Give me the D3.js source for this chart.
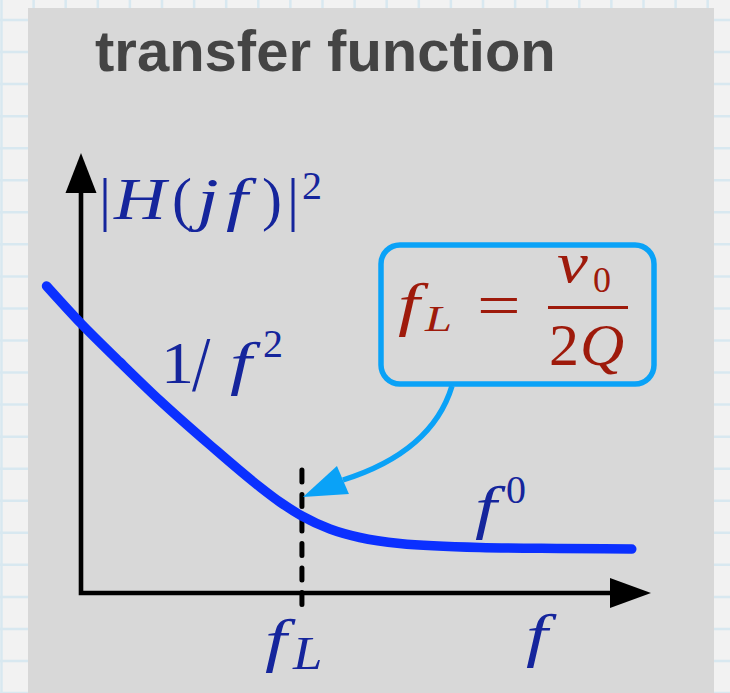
<!DOCTYPE html>
<html>
<head>
<meta charset="utf-8">
<script src="https://cdn.jsdelivr.net/npm/d3@7"></script>
<style>
  html, body { margin: 0; padding: 0; background: #f2f2f2; }
  svg { display: block; }
</style>
</head>
<body>
<script>
// Sketch of |H(jf)|^2: a 1/f^2 fall-off that levels out (f^0) above f_L.
// Frequency in units of f_L (f_L = 1), power in arbitrary units.
const freq  = [-0.156, 0.0,  0.176, 0.357, 0.584, 0.810, 0.900, 1.0,  1.127, 1.262, 1.443, 1.805, 2.167, 2.493];
const power = [ 3.07,  2.695, 2.31, 1.925, 1.48,  1.06,  0.91,  0.77, 0.64,  0.555, 0.495, 0.455, 0.445, 0.44];
const cornerFreq = 1.0;           // f_L
const xDomain = [0, 2.58];        // axis extent, tip of arrow
const yDomain = [0, 4.4];

const W = 730, H = 693;
const svg = d3.select("body").append("svg").attr("width", W).attr("height", H);

// graph-paper backdrop
const grid = svg.append("g").attr("stroke", "#d8e8f0").attr("stroke-width", 2.5);
d3.range(0, 24).forEach(k => {
  const gx = 1.5 + k * 32.1;
  grid.append("line").attr("x1", gx).attr("x2", gx).attr("y1", 0).attr("y2", H);
});
d3.range(-1, 22).forEach(k => {
  const gy = 20 + k * 32.05;
  grid.append("line").attr("x1", 0).attr("x2", W).attr("y1", gy).attr("y2", gy);
});

// grey panel
svg.append("rect").attr("x", 28).attr("y", 8).attr("width", 686).attr("height", H)
  .attr("fill", "#d8d8d8");

svg.append("text").attr("x", 95).attr("y", 71)
  .attr("font-family", "Liberation Sans, Arial, sans-serif")
  .attr("font-weight", "bold").attr("font-size", 58).attr("fill", "#444444")
  .text("transfer function");

const x = d3.scaleLinear().domain(xDomain).range([81, 651]);
const y = d3.scaleLinear().domain(yDomain).range([593, 153]);

// axes with arrowheads
const x0 = x(0), y0 = y(0);
const yTip = y(yDomain[1]), xTip = x(xDomain[1]);
svg.append("path")
  .attr("d", `M${x0},${yTip + 38}L${x0},${y0}L${xTip - 38},${y0}`)
  .attr("fill", "none").attr("stroke", "#000").attr("stroke-width", 4.6)
  .attr("stroke-linejoin", "miter");
svg.append("path")
  .attr("d", `M${x0},${yTip}L${x0 + 15.5},${yTip + 40}L${x0 - 15.5},${yTip + 40}Z`)
  .attr("fill", "#000");
svg.append("path")
  .attr("d", `M${xTip},${y0}L${xTip - 41},${y0 - 15}L${xTip - 41},${y0 + 15}Z`)
  .attr("fill", "#000");

// dashed marker at f_L
svg.append("line")
  .attr("x1", x(cornerFreq)).attr("x2", x(cornerFreq))
  .attr("y1", 470).attr("y2", 606)
  .attr("stroke", "#000").attr("stroke-width", 5)
  .attr("stroke-linecap", "round").attr("stroke-dasharray", "12 12.5");

// response curve
const line = d3.line().x((d, i) => x(freq[i])).y(d => y(d)).curve(d3.curveMonotoneX);
svg.append("path").datum(power)
  .attr("d", line)
  .attr("fill", "none").attr("stroke", "#0b30ff").attr("stroke-width", 9.5)
  .attr("stroke-linecap", "round").attr("stroke-linejoin", "round");

// math labels: every glyph placed (and widened) on its own
const serif = "Liberation Serif, Times New Roman, serif";
function mathLabel(color, glyphs) {
  const g = svg.append("g").attr("font-family", serif).attr("fill", color);
  glyphs.forEach(d => {
    g.append("text")
      .attr("transform", `translate(${d.x},${d.y}) scale(${d.sx || 1},${d.sy || 1})`)
      .attr("font-size", d.s)
      .attr("font-style", d.i ? "italic" : "normal")
      .text(d.t);
  });
  return g;
}
const blue = "#15259c", red = "#9e1a0b";

mathLabel(blue, [
  { t: "|", x: 99,  y: 219, s: 60 },
  { t: "H", x: 114, y: 219, s: 60, i: true, sx: 1.2 },
  { t: "(", x: 172, y: 219, s: 60 },
  { t: "j", x: 197, y: 219, s: 60, i: true, sx: 1.3 },
  { t: "f", x: 226, y: 219, s: 60, i: true, sx: 1.3 },
  { t: ")", x: 262, y: 219, s: 60 },
  { t: "|", x: 287, y: 219, s: 60 },
  { t: "2", x: 302, y: 199, s: 40 }
]);

mathLabel(blue, [
  { t: "1", x: 161, y: 383, s: 60, sx: 1.1 },
  { t: "/", x: 192, y: 390, s: 60, sx: 1.1, sy: 1.3 },
  { t: "f", x: 230, y: 383, s: 60, i: true, sx: 1.3 },
  { t: "2", x: 263, y: 357, s: 40 }
]);

mathLabel(blue, [
  { t: "f", x: 475, y: 527, s: 60, i: true, sx: 1.3 },
  { t: "0", x: 506, y: 503, s: 40 }
]);

mathLabel(blue, [
  { t: "f", x: x(cornerFreq) - 37, y: 660, s: 60, i: true, sx: 1.3 },
  { t: "L", x: x(cornerFreq) - 9, y: 669, s: 46, i: true, sx: 1.15 }
]);

mathLabel(blue, [
  { t: "f", x: 526, y: 655, s: 60, i: true, sx: 1.3 }
]);

// callout box
svg.append("rect").attr("x", 381).attr("y", 245).attr("width", 273).attr("height", 139)
  .attr("rx", 19).attr("ry", 19)
  .attr("fill", "none").attr("stroke", "#0aa2f7").attr("stroke-width", 5.5);

mathLabel(red, [
  { t: "f", x: 398, y: 324, s: 60, i: true, sx: 1.3 },
  { t: "L", x: 425, y: 331, s: 36, i: true, sx: 1.35 },
  { t: "=", x: 477, y: 326, s: 62, sx: 1.25 },
  { t: "ν", x: 557, y: 282, s: 58, i: true, sx: 1.2 },
  { t: "0", x: 593, y: 292, s: 36 },
  { t: "2", x: 549, y: 365, s: 60 },
  { t: "Q", x: 580, y: 365, s: 60, i: true, sx: 1.02 }
]);
svg.append("line").attr("x1", 548).attr("x2", 628).attr("y1", 307.5).attr("y2", 307.5)
  .attr("stroke", red).attr("stroke-width", 3);

// pointer from box to the corner point
const tip = [x(cornerFreq) + 1, 497];
svg.append("path")
  .attr("d", `M452,386Q432,452 ${tip[0] + 40},480`)
  .attr("fill", "none").attr("stroke", "#0aa2f7").attr("stroke-width", 5.5);
svg.append("path")
  .attr("d", `M${tip[0]},${tip[1]}L${tip[0] + 34},${tip[1] - 31}L${tip[0] + 46},${tip[1] - 3}Z`)
  .attr("fill", "#0aa2f7");
</script>
</body>
</html>
